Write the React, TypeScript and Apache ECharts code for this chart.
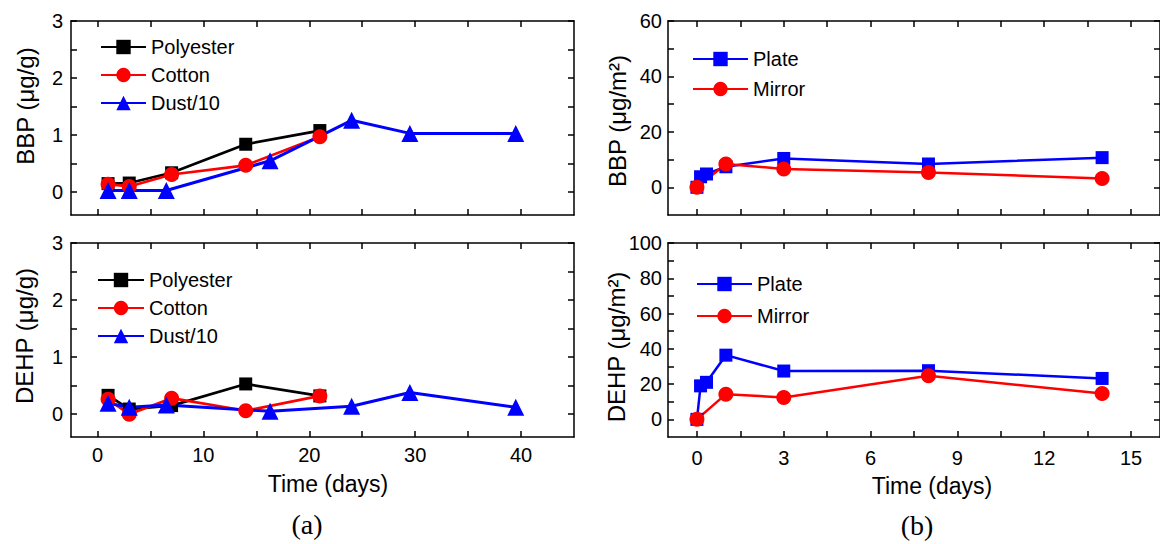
import React, { useEffect, useRef } from "react";
import * as echarts from "echarts";

// ---- data (a) ----
const fabricDays = [1, 3, 7, 14, 21];
const dustDays = [1, 3, 6.5, 16.3, 24, 29.5, 39.5];
const bbpPolyester = [0.15, 0.16, 0.34, 0.84, 1.08];
const bbpCotton = [0.14, 0.1, 0.31, 0.47, 0.97];
const bbpDust = [0.03, 0.03, 0.03, 0.55, 1.26, 1.03, 1.03];
const dehpPolyester = [0.33, 0.09, 0.15, 0.53, 0.32];
const dehpCotton = [0.26, 0.0, 0.28, 0.06, 0.32];
const dehpDust = [0.19, 0.12, 0.16, 0.05, 0.14, 0.38, 0.12];

// ---- data (b) ----
const plateDays = [0, 0.125, 0.33, 1, 3, 8, 14];
const mirrorDays = [0, 1, 3, 8, 14];
const bbpPlate = [0, 3.8, 4.8, 7.4, 10.4, 8.4, 10.7];
const bbpMirror = [0, 8.4, 6.6, 5.3, 3.2];
const dehpPlate = [0, 19, 21, 36.4, 27.4, 27.6, 23.2];
const dehpMirror = [0, 14.3, 12.4, 24.7, 14.7];

// ---- ticks ----
const aTicksX = [0, 5, 10, 15, 20, 25, 30, 35, 40];
const aLabelsX = [0, 10, 20, 30, 40];
const aTicksY = [0, 0.5, 1, 1.5, 2, 2.5, 3];
const aLabelsY = [0, 1, 2, 3];
const bTicksX = [0, 1.5, 3, 4.5, 6, 7.5, 9, 10.5, 12, 13.5, 15];
const bLabelsX = [0, 3, 6, 9, 12, 15];
const bTopTicksY = [0, 10, 20, 30, 40, 50, 60];
const bTopLabelsY = [0, 20, 40, 60];
const bBotTicksY = [0, 10, 20, 30, 40, 50, 60, 70, 80, 90, 100];
const bBotLabelsY = [0, 20, 40, 60, 80, 100];

const legendA = ["Polyester", "Cotton", "Dust/10"];
const legendB = ["Plate", "Mirror"];

const FONT = "Liberation Sans, Arial, sans-serif";
const BLACK = "#000000";
const RED = "#ff0000";
const BLUE = "#0000ff";

const pairs = (xs: number[], ys: number[]) => xs.map((x, i) => [x, ys[i]]);

export default function App() {
  const ref = useRef<HTMLDivElement>(null);
  useEffect(() => {
    if (!ref.current) return;
    const chart = echarts.init(ref.current, undefined, { renderer: "svg" });

    const lineStyle = { color: BLACK, width: 1.5 };
    const tick = (vals: number[]) => ({
      show: true,
      inside: true,
      length: 6,
      customValues: vals,
      lineStyle: { color: BLACK, width: 1.5 },
    });
    const label = (vals: number[] | null, margin: number) =>
      vals
        ? { show: true, customValues: vals, margin, fontSize: 20, fontFamily: FONT, color: BLACK }
        : { show: false };

    const axis = (grid: number, min: number, max: number, ticks: number[], labels: number[] | null, pos: string, margin = 8) => ({
      type: "value",
      gridIndex: grid,
      position: pos,
      min,
      max,
      axisLine: { show: true, onZero: false, lineStyle },
      axisTick: tick(ticks),
      axisLabel: label(labels, margin),
      splitLine: { show: false },
    });

    const ser = (name: string, grid: number, data: number[][], color: string, symbol: string, size: number, width: number) => ({
      type: "line",
      name,
      xAxisIndex: grid * 2,
      yAxisIndex: grid * 2,
      data,
      symbol,
      symbolSize: size,
      showSymbol: true,
      lineStyle: { color, width },
      itemStyle: { color, borderWidth: 0 },
      emphasis: { disabled: true },
    });

    const legendCommon = {
      orient: "vertical",
      padding: 0,
      selectedMode: false,
      textStyle: { fontSize: 20, fontFamily: FONT, color: BLACK },
    };

    const title = (text: string, x: number, y: number, rotate: boolean, size = 23, family = FONT) => ({
      type: "text",
      x,
      y,
      rotation: rotate ? Math.PI / 2 : 0,
      style: {
        text,
        fontSize: size,
        fontFamily: family,
        fill: BLACK,
        align: "center",
        verticalAlign: "middle",
        textAlign: "center",
        textVerticalAlign: "middle",
      },
    });

    chart.setOption({
      animation: false,
      backgroundColor: "#ffffff",
      grid: [
        { left: 71, top: 21, width: 503, height: 194 },
        { left: 71, top: 243, width: 503, height: 194 },
        { left: 668, top: 21, width: 501, height: 194 },
        { left: 668, top: 243, width: 501, height: 194 },
      ],
      xAxis: [
        axis(0, -2.5, 45, aTicksX, null, "bottom"),
        axis(0, -2.5, 45, aTicksX, null, "top"),
        axis(1, -2.5, 45, aTicksX, aLabelsX, "bottom", 8),
        axis(1, -2.5, 45, aTicksX, null, "top"),
        axis(2, -1, 16, bTicksX, null, "bottom"),
        axis(2, -1, 16, bTicksX, null, "top"),
        axis(3, -1, 16, bTicksX, bLabelsX, "bottom", 11),
        axis(3, -1, 16, bTicksX, null, "top"),
      ],
      yAxis: [
        axis(0, -0.4, 3, aTicksY, aLabelsY, "left", 8),
        axis(0, -0.4, 3, aTicksY, null, "right"),
        axis(1, -0.4, 3, aTicksY, aLabelsY, "left", 8),
        axis(1, -0.4, 3, aTicksY, null, "right"),
        axis(2, -10, 60, bTopTicksY, bTopLabelsY, "left", 6),
        axis(2, -10, 60, bTopTicksY, null, "right"),
        axis(3, -10, 100, bBotTicksY, bBotLabelsY, "left", 6),
        axis(3, -10, 100, bBotTicksY, null, "right"),
      ],
      legend: [
        { ...legendCommon, data: legendA, left: 100, top: 37, itemWidth: 45, itemHeight: 18, itemGap: 8 },
        { ...legendCommon, data: legendA, left: 97, top: 270, itemWidth: 46, itemHeight: 18, itemGap: 8 },
        { ...legendCommon, data: legendB, left: 692, top: 49, itemWidth: 55, itemHeight: 18, itemGap: 10 },
        { ...legendCommon, data: legendB, left: 696, top: 274, itemWidth: 55, itemHeight: 18, itemGap: 12 },
      ],
      series: [
        ser("Polyester", 0, pairs(fabricDays, bbpPolyester), BLACK, "rect", 13, 2.7),
        ser("Cotton", 0, pairs(fabricDays, bbpCotton), RED, "circle", 15, 2.7),
        ser("Dust/10", 0, pairs(dustDays, bbpDust), BLUE, "triangle", 17, 3),
        ser("Polyester", 1, pairs(fabricDays, dehpPolyester), BLACK, "rect", 13, 2.7),
        ser("Cotton", 1, pairs(fabricDays, dehpCotton), RED, "circle", 15, 2.7),
        ser("Dust/10", 1, pairs(dustDays, dehpDust), BLUE, "triangle", 17, 3),
        ser("Plate", 2, pairs(plateDays, bbpPlate), BLUE, "rect", 13, 2.5),
        ser("Mirror", 2, pairs(mirrorDays, bbpMirror), RED, "circle", 15, 2.5),
        ser("Plate", 3, pairs(plateDays, dehpPlate), BLUE, "rect", 13, 2.5),
        ser("Mirror", 3, pairs(mirrorDays, dehpMirror), RED, "circle", 15, 2.5),
      ],
      graphic: [
        title("BBP (μg/g)", 25, 106, true, 24),
        title("DEHP (μg/g)", 24, 336, true, 24),
        title("BBP (μg/m²)", 617, 121, true, 24),
        title("DEHP (μg/m²)", 616, 347, true, 24),
        title("Time (days)", 328, 484, false),
        title("Time (days)", 932, 486, false),
        title("(a)", 307, 524, false, 28, "Liberation Serif, Times New Roman, serif"),
        title("(b)", 917, 525, false, 28, "Liberation Serif, Times New Roman, serif"),
      ],
    });

    return () => chart.dispose();
  }, []);

  return (
    <div
      ref={ref}
      style={{ position: "fixed", left: 0, top: 0, width: 1160, height: 544, background: "#fff", overflow: "hidden" }}
    />
  );
}
